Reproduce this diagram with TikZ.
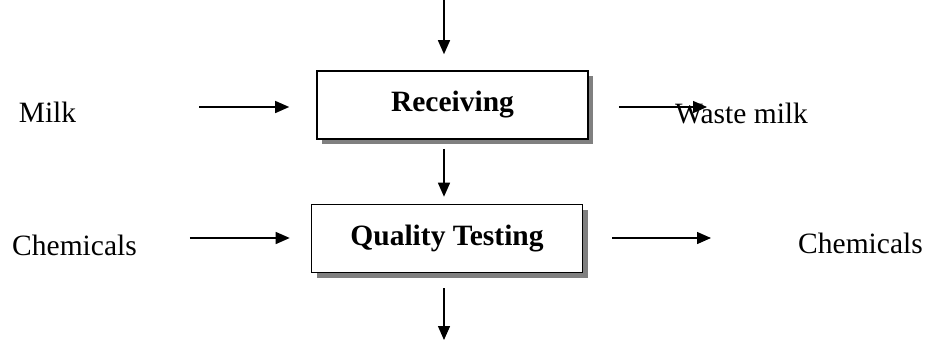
\documentclass[tikz,border=0pt]{standalone}
\usepackage{fontspec}
\setmainfont{Liberation Serif}
\usetikzlibrary{arrows.meta,shadows,positioning}

\begin{document}
\begin{tikzpicture}[
  x=1pt, y=-1pt,
  process/.style={rectangle, draw=black, line width=1.6pt, fill=white, minimum width=271pt, minimum height=68pt, inner sep=0pt, font=\fontsize{29.5}{32}\selectfont\bfseries,
    drop shadow={shadow xshift=5pt, shadow yshift=-5pt, fill=black!50, opacity=1}},
  stream/.style={font=\fontsize{29.5}{32}\selectfont, inner sep=0pt},
  flow/.style={line width=1.4pt, -{Triangle[length=14pt,width=12pt]}}
]
  \useasboundingbox (0,0) rectangle (930,341);
  \node[process] (recv) at (452.5,105) {Receiving};
  \node[process] (qt) at (447,238.5) {Quality Testing};
  \node[stream] (milk) at (47.5,112) {Milk};
  \node[stream] (chemin) at (74.5,245) {Chemicals};
  \node[stream] (waste) at (741.5,113) {Waste milk};
  \node[stream] (chemout) at (860.5,243) {Chemicals};
  \coordinate (topin) at (444,0);
  \coordinate (bottomout) at (444,340);
  \coordinate (wasteend) at (707,107);
  \coordinate (chemend) at (711,238);
  % main line, top to bottom
  \draw[flow, shorten >=16pt] (topin) -- (topin |- recv.north);
  \draw[flow, shorten <=9pt, shorten >=7pt] (topin |- recv.south) -- (topin |- qt.north);
  \draw[flow, shorten <=15pt] (topin |- qt.south) -- (bottomout);
  % side streams
  \draw[flow, shorten <=123pt, shorten >=27pt] (milk.east |- wasteend) -- (recv.west |- wasteend);
  \draw[flow, shorten <=30pt] (recv.east |- wasteend) -- (wasteend);
  \draw[flow, shorten <=53pt, shorten >=21pt] (chemin.east |- chemend) -- (qt.west |- chemend);
  \draw[flow, shorten <=29pt] (qt.east |- chemend) -- (chemend);
\end{tikzpicture}
\end{document}
